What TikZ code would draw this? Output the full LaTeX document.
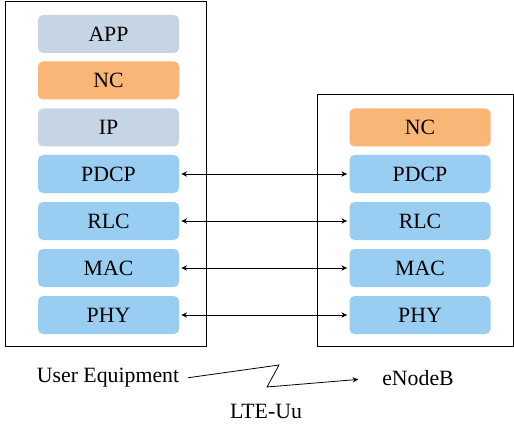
\documentclass[tikz,border=0pt]{standalone}
\usepackage{fontspec}
\setmainfont{Liberation Serif}
\usetikzlibrary{arrows.meta}
\definecolor{layerGrey}{HTML}{C6D5E5}
\definecolor{layerOrange}{HTML}{FAB677}
\definecolor{layerBlue}{HTML}{99CDF2}
\tikzset{
	layer/.style={rounded corners=2.5pt, minimum width=70.5pt, minimum height=19pt, inner sep=0pt, font=\fontsize{10.9}{13}\selectfont},
	link/.style={line width=0.4pt, {Stealth[length=2.8pt,width=2.6pt,inset=0.9pt]}-{Stealth[length=2.8pt,width=2.6pt,inset=0.9pt]}, shorten <=1pt, shorten >=1pt}
}

\begin{document}
\begin{tikzpicture}[x=0.5pt, y=-0.5pt]
		%%%%% START %%%%%
		\useasboundingbox (0, 0) rectangle (514, 433);
		
		\draw[line width=0.5pt] (5, 2) rectangle (206, 346);
		\draw[line width=0.5pt] (317, 95) rectangle (513.5, 346);
		
		\node[layer, fill=layerGrey] (ue-app) at (108.5, 34) {APP};
		\node[layer, fill=layerOrange] (ue-nc) at (108.5, 80.5) {NC};
		\node[layer, fill=layerGrey] (ue-ip) at (108.5, 127.5) {IP};
		\node[layer, fill=layerBlue] (ue-pdcp) at (108.5, 174) {PDCP};
		\node[layer, fill=layerBlue] (ue-rlc) at (108.5, 221) {RLC};
		\node[layer, fill=layerBlue] (ue-mac) at (108.5, 268) {MAC};
		\node[layer, fill=layerBlue] (ue-phy) at (108.5, 315) {PHY};
		
		\node[layer, fill=layerOrange] (enb-nc) at (420, 127.5) {NC};
		\node[layer, fill=layerBlue] (enb-pdcp) at (420, 174) {PDCP};
		\node[layer, fill=layerBlue] (enb-rlc) at (420, 221) {RLC};
		\node[layer, fill=layerBlue] (enb-mac) at (420, 268) {MAC};
		\node[layer, fill=layerBlue] (enb-phy) at (420, 315) {PHY};
		
		\foreach \l in {pdcp, rlc, mac, phy}
			\draw[link] (ue-\l.east) -- (enb-\l.west);
		
		\node[font=\fontsize{10.9}{13}\selectfont] (ue) at (108, 378) {User Equipment};
		\node[font=\fontsize{10.9}{13}\selectfont] (enb) at (418, 378) {eNodeB};
		\node[font=\fontsize{10.9}{13}\selectfont] (uu) at (266, 411) {LTE-Uu};
		
		\coordinate (zig) at (279, 365);
		\coordinate (zag) at (267, 387);
		\draw[line width=0.4pt, -{Stealth[length=2.8pt,width=2.6pt,inset=0.9pt]}, shorten <=1pt, shorten >=8.5pt] (ue.east) -- (zig) -- (zag) -- (enb.west);
		
		%%%%% END %%%%%
	\end{tikzpicture}
\end{document}
